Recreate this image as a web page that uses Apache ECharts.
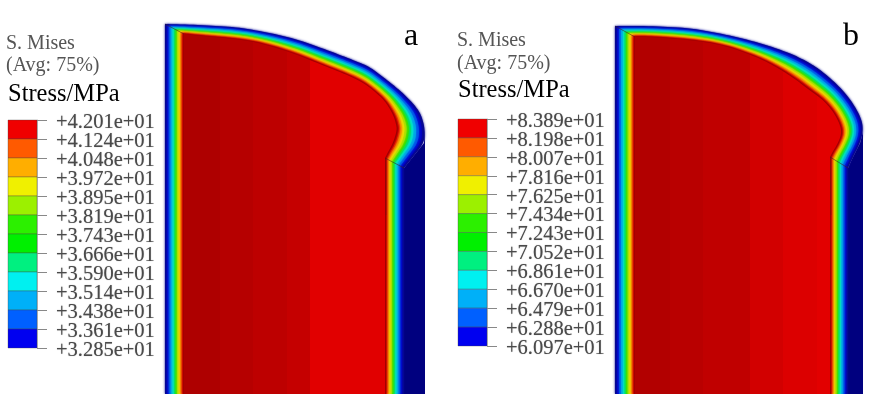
<!DOCTYPE html>
<html>
<head>
<meta charset="utf-8">
<style>html,body{margin:0;padding:0;background:#fff}#main{width:877px;height:394px}</style>
<script src="https://cdn.jsdelivr.net/npm/echarts@6/dist/echarts.min.js"></script>
</head>
<body>
<div id="main"></div>
<script>
// legend tick labels
var ticksA = ['+4.201e+01','+4.124e+01','+4.048e+01','+3.972e+01','+3.895e+01','+3.819e+01','+3.743e+01','+3.666e+01','+3.590e+01','+3.514e+01','+3.438e+01','+3.361e+01','+3.285e+01'];
var ticksB = ['+8.389e+01','+8.198e+01','+8.007e+01','+7.816e+01','+7.625e+01','+7.434e+01','+7.243e+01','+7.052e+01','+6.861e+01','+6.670e+01','+6.479e+01','+6.288e+01','+6.097e+01'];
var legendColors = ['#f00000','#ff5a00','#ffae00','#f0f000','#9cf000','#2cf000','#00f000','#00f080','#00f0f0','#00b0f8','#0060ff','#0000f0'];

// section profile: skin of the part and edge of the red core (matched point by point)
var skinA = [[165,394],[165,24],[200,25],[235,27],[260,31],[293,38],[327,50],[353,60],[370,67],[383,77],[397,88],[407,97],[417,108],[422,117],[425,130],[424,143],[412,158],[404,168],[404,394]];
var coreA = [[184,394],[184,34],[200,36],[235,39],[260,43],[293,53],[327,67],[345,74],[362,82],[373,90],[384,100],[390,109],[394,117],[396,124],[397,130],[393,143],[388,152],[385,158],[385,394]];
var skinB = [[615,394],[615,26],[650,26],[690,28],[723,34],[757,42],[790,53],[810,63],[823,72],[840,87],[853,103],[862,120],[863,132],[860,143],[853,157],[848,168],[848,394]];
var coreB = [[635,394],[635,37],[650,37],[690,40],[723,45],[757,57],[778,68],[795,79],[808,89],[822,99],[832,110],[839,122],[842,133],[837,145],[833,151],[830,157],[830,394]];
var navyA = [[425,130],[425,394],[404,394],[404,168],[412,158],[424,143]];
var navyB = [[863,132],[863,394],[848,394],[848,168],[853,157],[860,143]];

// contour bands from skin (0) to core (1)
var bandDepth = [0,0.1,0.2,0.3,0.4,0.48,0.56,0.64,0.72,0.8,0.87,0.92,0.96];
var bandColors = ['#08088c','#0000c8','#0050e8','#00a0e8','#00e0d0','#00e070','#30e000','#a0e000','#e8e000','#f8a000','#f05000','#d80000','#a00000'];

// vertical shading of the red core
var stripesA = [[184,'#ae0000'],[220,'#b60000'],[253,'#bd0000'],[287,'#c50000'],[310,'#e10000']];
var stripesB = [[635,'#b20000'],[670,'#b90000'],[703,'#c00000'],[750,'#d20000'],[783,'#dc0000'],[817,'#e20000']];

var seamsA = [[[165,24],[184,34]], [[385,158],[404,168]], [[386,158],[386,215]]];
var seamsB = [[[615,26],[635,37]], [[830,157],[848,168]], [[831,157],[831,215]]];

// rounds the dome between the two fixed corners of the profile
function roundDome(pts) {
    var out = pts;
    for (var k = 0; k < 3; k++) {
        var next = [out[0], out[1]];
        for (var i = 1; i < out.length - 2; i++) {
            var a = out[i], b = out[i + 1];
            next.push([a[0] * 0.75 + b[0] * 0.25, a[1] * 0.75 + b[1] * 0.25]);
            next.push([a[0] * 0.25 + b[0] * 0.75, a[1] * 0.25 + b[1] * 0.75]);
        }
        next.push(out[out.length - 2], out[out.length - 1]);
        out = next;
    }
    return out;
}

function polygonSeries(pts, color) {
    return {
        type: 'custom', xAxisIndex: 0, yAxisIndex: 0, silent: true, clip: true,
        data: [0],
        renderItem: function (params, api) {
            return {
                type: 'polygon',
                shape: { points: pts.map(function (p) { return api.coord(p); }) },
                style: { fill: color }
            };
        }
    };
}

function bandSeries(skin, core) {
    return {
        type: 'custom', xAxisIndex: 0, yAxisIndex: 0, silent: true, clip: true,
        data: bandDepth.map(function (d) { return [d]; }),
        renderItem: function (params, api) {
            var d = api.value(0);
            var c = bandColors[params.dataIndex];
            var pts = skin.map(function (p, i) {
                return api.coord([p[0] + (core[i][0] - p[0]) * d, p[1] + (core[i][1] - p[1]) * d]);
            });
            return {
                type: 'polygon',
                shape: { points: roundDome(pts) },
                style: { fill: c, shadowColor: c, shadowBlur: 2.5 }
            };
        }
    };
}

function coreSeries(core, stripes) {
    return {
        type: 'custom', xAxisIndex: 0, yAxisIndex: 0, silent: true, clip: true,
        data: [0],
        renderItem: function (params, api) {
            var x0 = stripes[0][0];
            var x1 = Math.max.apply(null, core.map(function (p) { return p[0]; }));
            var stops = [];
            stripes.forEach(function (s, i) {
                var end = i + 1 < stripes.length ? stripes[i + 1][0] : x1;
                stops.push({ offset: (s[0] - x0) / (x1 - x0), color: s[1] });
                stops.push({ offset: (end - x0) / (x1 - x0), color: s[1] });
            });
            return {
                type: 'polygon',
                shape: { points: roundDome(core.map(function (p) { return api.coord(p); })) },
                style: {
                    fill: { type: 'linear', x: api.coord([x0, 0])[0], y: 0, x2: api.coord([x1, 0])[0], y2: 0, global: true, colorStops: stops },
                    shadowColor: '#a00000', shadowBlur: 1.5
                }
            };
        }
    };
}

function seamSeries(seams) {
    return seams.map(function (s, i) {
        return {
            type: 'line', xAxisIndex: 0, yAxisIndex: 0, data: s, showSymbol: false, silent: true,
            lineStyle: { color: '#402020', width: 1, opacity: i == 2 ? 0.25 : 0.55 }
        };
    });
}

function legendSeries(axisIdx) {
    return {
        type: 'custom', xAxisIndex: axisIdx, yAxisIndex: axisIdx, silent: true,
        data: legendColors.map(function (c, i) { return [0, i]; }),
        renderItem: function (params, api) {
            var i = api.value(1);
            var a = api.coord([0, i]);
            var b = api.coord([1, i + 1]);
            return {
                type: 'rect',
                shape: { x: a[0], y: a[1], width: b[0] - a[0], height: b[1] - a[1] },
                style: { fill: legendColors[params.dataIndex], stroke: 'rgba(70,70,70,0.35)', lineWidth: 1 }
            };
        }
    };
}

function legendAxis(ticks, gridIdx) {
    return {
        type: 'category', gridIndex: gridIdx, data: ticks, inverse: true, position: 'right', boundaryGap: false, z: 10,
        axisLine: { show: true, onZero: false, lineStyle: { color: 'rgba(70,70,70,0.35)' } },
        axisTick: { show: true, inside: false, length: 10, interval: 0, lineStyle: { color: '#888' } },
        axisLabel: {
            interval: 0, margin: 19, align: 'left', verticalAlign: 'top', hideOverlap: false,
            fontFamily: 'Liberation Serif', fontSize: 20.5, color: '#4a4a4a', padding: [-8, 0, 0, 0],
            textShadowColor: '#999', textShadowBlur: 1
        },
        splitLine: { show: false }
    };
}

function label(text, left, top, size, color) {
    return {
        text: text, left: left, top: top, padding: 0,
        textStyle: { fontFamily: 'Liberation Serif', fontSize: size, fontWeight: 'normal', color: color }
    };
}

var chart = echarts.init(document.getElementById('main'), null, { renderer: 'canvas' });
chart.setOption({
    animation: false,
    backgroundColor: '#fff',
    title: [
        label('S. Mises', 6, 34, 20, '#555'),
        label('(Avg: 75%)', 6, 56, 20, '#555'),
        label('Stress/MPa', 8, 82, 24.5, '#000'),
        label('a', 404, 21, 32, '#000'),
        label('S. Mises', 457, 31, 20, '#555'),
        label('(Avg: 75%)', 457, 54, 20, '#555'),
        label('Stress/MPa', 458, 78, 24.5, '#000'),
        label('b', 843, 21, 32, '#000')
    ],
    grid: [
        { left: 0, top: 0, width: 877, height: 394 },
        { left: 8, top: 120, width: 29, height: 228 },
        { left: 458, top: 119, width: 29, height: 227 }
    ],
    xAxis: [
        { type: 'value', gridIndex: 0, min: 0, max: 877, show: false },
        { type: 'value', gridIndex: 1, min: 0, max: 1, show: false },
        { type: 'value', gridIndex: 2, min: 0, max: 1, show: false }
    ],
    yAxis: [
        { type: 'value', gridIndex: 0, min: 0, max: 394, inverse: true, show: false },
        legendAxis(ticksA, 1),
        legendAxis(ticksB, 2)
    ],
    series: [
        polygonSeries(navyA, '#00007f'),
        bandSeries(skinA, coreA),
        coreSeries(coreA, stripesA),
        polygonSeries(navyB, '#00007f'),
        bandSeries(skinB, coreB),
        coreSeries(coreB, stripesB),
        legendSeries(1),
        legendSeries(2)
    ].concat(seamSeries(seamsA), seamSeries(seamsB))
});
</script>
</body>
</html>
